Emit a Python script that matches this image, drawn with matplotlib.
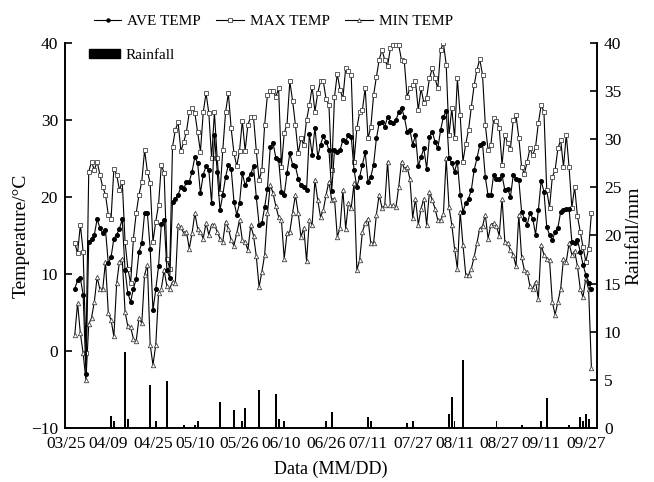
import numpy as np
import matplotlib
matplotlib.use("Agg")
import matplotlib.pyplot as plt
from matplotlib.lines import Line2D
from matplotlib.patches import Patch

plt.rcParams.update({"font.family": "Liberation Serif", "font.size": 12.5})

# x axis: day 0 = 03/25, daily records start at day 3
tick_days = [0, 15, 31, 46, 62, 77, 93, 108, 124, 139, 155, 170, 186]
tick_labels = ["03/25", "04/09", "04/25", "05/10", "05/26", "06/10", "06/26",
               "07/11", "07/27", "08/11", "08/27", "09/11", "09/27"]
first_day = 3

max_temp = [14.0, 12.7, 16.4, 12.9, -0.2, 23.3, 24.6, 23.5, 24.6, 22.9,
            21.3, 20.3, 17.7, 17.2, 23.7, 22.9, 20.9, 22.0, 14.2, 10.7,
            8.8, 14.6, 17.9, 20.3, 22.0, 26.1, 23.3, 21.8, 14.2, 16.8,
            19.0, 24.2, 23.1, 12.0, 10.7, 26.5, 28.7, 29.7, 26.0, 27.1,
            28.5, 31.0, 31.5, 30.9, 28.4, 25.9, 31.0, 33.5, 30.9, 25.0,
            31.0, 25.0, 20.5, 26.1, 31.0, 33.5, 28.9, 25.7, 24.0, 26.0,
            29.9, 26.0, 29.4, 30.4, 30.4, 26.0, 22.2, 23.5, 29.4, 33.3,
            33.8, 33.8, 33.0, 34.1, 23.9, 28.3, 29.4, 35.0, 32.5, 29.4,
            25.7, 27.6, 26.8, 30.0, 31.9, 34.3, 31.1, 33.5, 35.0, 35.0,
            32.7, 32.0, 23.5, 33.0, 36.0, 33.9, 32.8, 36.7, 36.3, 35.8,
            24.6, 28.9, 31.0, 31.3, 34.2, 27.6, 29.1, 33.2, 35.6, 37.8,
            39.1, 37.8, 37.0, 39.3, 39.7, 39.7, 39.7, 37.8, 37.6, 33.0,
            34.1, 34.5, 35.0, 31.3, 34.1, 32.2, 32.9, 35.4, 36.7, 35.4,
            34.1, 39.1, 40.0, 37.2, 28.0, 31.5, 27.7, 35.4, 30.6, 24.6,
            26.9, 28.7, 31.7, 34.5, 36.5, 37.9, 35.9, 29.4, 26.1, 26.8,
            30.2, 29.9, 28.9, 24.2, 28.1, 27.0, 26.2, 30.0, 30.6, 27.7,
            23.9, 23.0, 24.6, 26.3, 25.4, 26.5, 29.6, 31.9, 31.1, 20.9,
            18.6, 22.6, 23.5, 26.3, 27.4, 23.9, 28.1, 23.9, 18.6, 21.3,
            17.5, 15.5, 13.5, 11.6, 13.3, 17.9]

ave_temp = [8.1, 9.2, 9.5, 7.3, -3.0, 14.2, 14.5, 15.1, 17.1, 16.0,
            15.3, 15.7, 11.4, 12.2, 14.6, 15.1, 15.9, 17.1, 10.5, 7.5,
            6.4, 8.1, 9.4, 12.9, 14.0, 17.9, 17.9, 13.3, 5.3, 8.0,
            11.0, 16.5, 17.0, 10.5, 9.5, 19.4, 19.7, 20.3, 21.3, 21.0,
            22.0, 22.0, 23.3, 25.2, 24.4, 20.5, 22.9, 24.0, 23.5, 19.2,
            28.0, 23.3, 18.3, 20.3, 22.6, 24.2, 23.7, 19.4, 17.7, 19.2,
            23.1, 21.5, 22.4, 23.0, 24.0, 20.0, 16.4, 16.6, 18.7, 21.1,
            26.5, 27.0, 25.1, 24.8, 20.7, 20.3, 23.1, 25.7, 24.2, 24.0,
            22.4, 21.5, 21.3, 20.9, 28.2, 25.5, 29.0, 25.2, 26.8, 27.9,
            27.2, 26.1, 20.8, 26.1, 25.9, 26.1, 27.4, 27.2, 28.1, 27.8,
            23.5, 21.3, 22.6, 24.2, 25.8, 22.0, 22.6, 24.2, 27.6, 29.6,
            29.8, 29.1, 30.4, 29.8, 29.6, 30.0, 31.0, 31.6, 30.4, 28.5,
            28.7, 26.8, 28.0, 24.0, 25.2, 26.3, 23.7, 27.8, 28.5, 27.2,
            26.3, 28.7, 30.4, 31.2, 25.0, 24.4, 23.3, 24.6, 20.3, 18.1,
            19.2, 19.8, 20.9, 23.5, 25.0, 26.7, 27.0, 22.6, 20.2, 20.2,
            22.9, 22.3, 22.3, 22.8, 20.9, 21.1, 20.0, 22.8, 22.4, 22.2,
            18.1, 17.2, 16.4, 17.9, 17.2, 15.1, 18.3, 22.1, 20.7, 16.1,
            15.1, 14.4, 15.5, 16.0, 18.1, 18.3, 18.4, 18.5, 14.2, 14.0,
            14.4, 12.9, 11.2, 9.9, 8.8, 8.0]

min_temp = [2.1, 6.2, 2.3, -0.3, -3.8, 3.5, 4.3, 6.4, 9.6, 8.0,
            8.0, 11.6, 5.0, 4.0, 1.9, 8.8, 11.6, 12.0, 5.1, 3.2,
            3.1, 1.6, 1.3, 4.3, 3.6, 9.9, 11.2, 0.8, -1.8, 0.8,
            7.5, 8.1, 10.5, 8.4, 8.1, 9.0, 8.8, 16.4, 16.1, 15.3,
            15.5, 13.3, 15.3, 17.9, 15.9, 15.5, 14.6, 16.6, 15.1, 16.4,
            16.4, 15.5, 14.6, 14.2, 16.8, 15.9, 14.4, 13.7, 15.3, 17.0,
            14.4, 14.2, 13.1, 16.3, 15.0, 12.3, 8.3, 10.3, 12.5, 17.9,
            21.6, 20.5, 18.8, 17.4, 17.0, 12.0, 15.3, 15.5, 17.9, 20.3,
            17.9, 14.8, 16.0, 11.7, 17.0, 16.4, 22.2, 19.6, 17.4, 18.3,
            20.3, 22.0, 19.6, 19.8, 14.8, 16.0, 20.9, 15.9, 19.2, 18.6,
            21.8, 10.5, 11.8, 15.5, 16.6, 17.2, 14.0, 14.0, 17.7, 20.3,
            18.6, 18.9, 24.6, 18.9, 18.9, 18.7, 21.3, 24.6, 23.7, 23.9,
            22.4, 17.3, 19.8, 16.4, 18.5, 19.8, 16.4, 20.7, 19.6, 18.5,
            17.0, 17.0, 17.8, 25.0, 18.7, 16.4, 13.3, 10.7, 18.1, 13.8,
            9.9, 9.9, 10.7, 12.2, 14.0, 15.9, 16.2, 17.7, 14.6, 16.4,
            16.6, 16.2, 15.0, 19.8, 14.2, 14.0, 13.1, 12.5, 11.0, 17.7,
            12.2, 10.5, 10.3, 8.4, 8.1, 9.0, 6.8, 13.8, 12.5, 12.0,
            11.8, 6.4, 4.7, 6.4, 8.1, 12.0, 11.6, 14.0, 12.5, 13.0,
            11.0, 8.1, 7.0, 9.5, 8.0, -2.2]

rain_days = [16, 17, 21, 22, 30, 32, 36, 42, 46, 47, 55, 60, 63, 64, 67, 69,
             74, 75, 76, 78, 93, 95, 108, 109, 122, 124, 126, 137, 138, 139,
             142, 151, 154, 163, 170, 172, 178, 180, 184, 185, 186, 187]
rain_mm = [1.25, 0.7, 7.9, 0.9, 4.5, 0.7, 4.9, 0.35, 0.35, 0.7, 2.7, 1.9,
           0.7, 2.1, 0.1, 3.95, 0.1, 3.5, 0.9, 0.7, 0.7, 1.7, 1.1, 0.7,
           0.5, 0.7, 0.1, 1.5, 3.25, 0.7, 7.1, 0.1, 0.7, 0.35, 0.7, 3.1,
           0.1, 0.35, 1.1, 0.7, 1.5, 0.9]

days = np.arange(first_day, first_day + len(ave_temp))   # consecutive days

fig = plt.figure(figsize=(6.54, 4.82), dpi=100)
ax = fig.add_axes([65/654, 54/482, 532/654, 385/482])
ax2 = ax.twinx()

ax2.bar(rain_days, rain_mm, width=0.65, color="black")
ax2.set_ylim(0, 40)
ax2.set_yticks(range(0, 41, 5))

ax.set_zorder(ax2.get_zorder() + 1)
ax.patch.set_visible(False)

mk = dict(color="black", lw=0.8)
ax.plot(days, min_temp, marker="^", ms=3.2, mfc="white", mec="#444", mew=0.6, **mk)
ax.plot(days, max_temp, marker="s", ms=2.8, mfc="white", mec="#444", mew=0.6, **mk)
ax.plot(days, ave_temp, marker="o", ms=2.6, mfc="black", mec="black", **mk)

ax.set_xlim(-0.5, 190)
ax.set_ylim(-10, 40)
ax.set_yticks(range(-10, 41, 10))
ax.set_xticks(tick_days)
ax.set_xticklabels(tick_labels)
ax.tick_params(axis="x", length=0, pad=6, labelsize=12.5)
ax.tick_params(axis="y", direction="in", length=5, width=1.2, labelsize=12.5, pad=5)
ax2.tick_params(axis="y", direction="in", length=5, width=1.2, labelsize=12.5, pad=5)
for a in (ax, ax2):
    a.spines["top"].set_visible(False)
    for s in ("left", "right", "bottom"):
        a.spines[s].set_linewidth(1.2)

ax.set_xlabel("Data (MM/DD)", labelpad=6, fontsize=13)
ax.set_ylabel("Temperature/°C", labelpad=1, fontsize=14)
ax2.set_ylabel("Rainfall/mm", labelpad=3, fontsize=14)

handles = [Line2D([], [], color="black", lw=0.8, marker="o", ms=2.2, mfc="black"),
           Line2D([], [], color="black", lw=0.8, marker="s", ms=2.4, mfc="white", mec="#444", mew=0.6),
           Line2D([], [], color="black", lw=0.8, marker="^", ms=2.8, mfc="white", mec="#444", mew=0.6)]
fig.legend(handles, ["AVE TEMP", "MAX TEMP", "MIN TEMP"], loc="upper left",
           bbox_to_anchor=(80/654, 1 - 1/482), ncol=3, frameon=False,
           fontsize=11, handlelength=1.8, handletextpad=0.4, columnspacing=1.0)
ax.legend([Patch(color="black")], ["Rainfall"], loc="upper left",
          bbox_to_anchor=(18/532, 1.0), frameon=False, fontsize=11,
          handlelength=2.0, handleheight=0.55, handletextpad=0.4, borderaxespad=0)

fig.savefig("out.png", dpi=100)
